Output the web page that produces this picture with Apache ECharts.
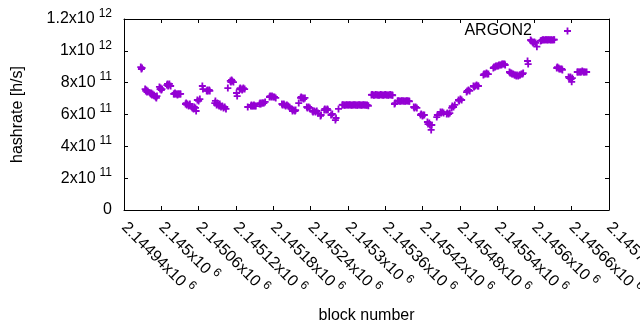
<!DOCTYPE html>
<html><head><meta charset="utf-8">
<script src="https://cdn.jsdelivr.net/npm/echarts@6/dist/echarts.min.js"></script>
<style>html,body{margin:0;padding:0;background:#fff}#c{width:640px;height:330px}</style>
</head><body><div id="c"></div>
<script>
const seriesName = 'ARGON2';
const xAxisTitle = 'block number';
const yAxisTitle = 'hashrate [h/s]';
const xMin = 2144940, xMax = 2145720, xStep = 60;
const yMin = 0, yMax = 1.2e12, yStep = 2e11;

const blockNumbers = [
2144967,2144968,2144969,
2144974,2144975,2144976,2144977,2144978,
2144982,2144983,2144984,2144985,2144986,2144988,2144989,
2144991,2144992,2144993,
2144997,2144998,2144999,2145000,2145001,
2145009,2145010,2145011,2145012,2145013,2145015,
2145020,2145021,2145022,2145023,2145025,2145026,2145027,2145028,2145030,2145031,
2145039,2145040,2145041,2145042,2145044,2145045,2145046,
2145049,2145050,2145052,2145053,2145055,2145056,
2145058,2145060,2145062,
2145066,2145067,
2145073,2145074,2145075,2145077,2145078,
2145086,2145087,2145089,2145090,2145092,2145093,2145094,2145096,2145098,2145100,2145102,2145104,
2145107,
2145111,2145112,2145113,2145114,2145116,
2145121,2145122,
2145126,2145127,2145128,2145130,2145131,2145132,2145134,
2145139,2145144,2145145,2145146,2145148,2145149,2145150,2145152,
2145158,2145159,2145160,2145162,2145163,2145165,2145167,
2145174,2145175,2145177,2145178,2145180,2145182,2145184,
2145194,2145195,2145197,2145198,2145200,2145202,2145204,2145206,
2145210,2145211,2145213,2145215,2145216,
2145221,
2145224,2145225,2145226,2145228,2145229,2145231,
2145234,2145235,2145237,2145239,
2145243,2145244,2145246,2145248,2145250,2145252,
2145256,2145257,
2145262,2145263,2145265,2145267,2145268,
2145273,2145275,
2145280,2145281,
2145285,
2145291,2145292,2145294,2145295,2145297,2145298,2145300,2145301,2145303,2145304,2145306,2145307,2145309,2145310,2145312,2145313,2145315,2145316,2145318,2145319,2145321,2145322,2145324,2145325,2145327,2145328,2145330,2145331,2145333,
2145338,2145339,2145341,2145342,2145344,2145345,2145347,2145348,2145350,2145351,2145353,2145354,2145356,2145357,2145359,2145360,2145362,2145363,2145365,2145366,2145368,2145369,2145371,2145372,
2145375,2145376,
2145380,2145381,2145383,2145384,2145386,2145387,2145389,2145390,2145392,2145393,2145395,2145396,2145398,2145399,
2145406,2145407,2145409,2145411,
2145417,2145418,2145420,2145421,2145423,
2145428,2145429,2145431,2145432,2145434,2145435,
2145443,2145444,
2145449,2145450,2145452,2145454,
2145459,2145460,2145462,2145464,
2145467,2145468,2145470,2145472,
2145478,2145479,2145481,2145483,
2145491,2145492,2145494,2145496,
2145502,2145503,2145505,2145507,2145509,2145510,
2145518,2145519,2145521,2145523,2145524,2145526,
2145534,2145535,2145537,2145538,2145540,2145542,2145543,2145545,2145547,2145548,2145550,2145552,2145553,
2145560,2145561,2145563,2145564,2145566,2145568,2145569,2145571,2145572,2145574,2145576,2145577,2145579,2145581,2145582,
2145589,2145590,
2145594,2145595,2145597,2145598,2145600,2145602,2145604,
2145610,2145611,2145613,2145614,2145616,2145618,2145619,2145621,2145622,2145624,2145626,2145627,2145629,2145631,2145632,
2145636,2145637,2145639,2145640,2145642,2145644,2145645,
2145655,2145656,2145658,2145659,2145660,2145661,
2145669,2145670,2145672,2145674,2145675,2145677,2145679,2145680,2145682,2145684
];

// hashrate in units of 1e11 h/s
const hashratesE11 = [
8.98,8.86,8.92,
7.60,7.48,7.54,7.41,7.48,
7.35,7.29,7.35,7.23,7.29,7.23,7.16,
7.10,7.04,7.16,
7.73,7.60,7.66,7.54,7.60,
7.85,7.92,7.79,7.85,7.92,7.79,
7.29,7.29,7.35,7.29,7.29,7.23,7.29,7.29,7.29,7.29,
6.66,6.72,6.60,6.66,6.53,6.60,6.66,
6.47,6.41,6.35,6.47,6.41,6.22,
6.91,6.85,6.97,
7.79,7.60,
7.48,7.54,7.48,7.54,7.48,
6.72,6.85,6.60,6.72,6.60,6.53,6.66,6.47,6.53,6.41,6.47,6.35,
7.66,
8.11,8.04,8.17,8.11,8.04,
7.35,7.16,
7.60,7.66,7.60,7.54,7.60,7.66,7.60,
6.47,6.53,6.60,6.53,6.53,6.60,6.53,6.53,
6.66,6.72,6.66,6.72,6.72,6.72,6.79,
7.10,7.16,7.10,7.16,7.10,7.10,7.04,
6.66,6.60,6.66,6.60,6.53,6.60,6.53,6.47,
6.35,6.22,6.28,6.22,6.28,
6.72,
7.04,7.10,7.04,7.04,6.97,7.04,
6.47,6.41,6.47,6.41,
6.22,6.16,6.22,6.16,6.22,6.09,
5.91,5.97,
6.28,6.35,6.28,6.35,6.28,
5.97,6.03,
5.65,5.78,
6.35,
6.60,6.62,6.60,6.58,6.60,6.62,6.60,6.60,6.62,6.60,6.58,6.60,6.60,6.62,6.60,6.60,6.58,6.60,6.62,6.60,6.60,6.58,6.60,6.62,6.60,6.60,6.58,6.60,6.55,
7.23,7.25,7.23,7.21,7.23,7.25,7.23,7.23,7.21,7.23,7.25,7.23,7.23,7.21,7.23,7.25,7.23,7.23,7.21,7.23,7.25,7.23,7.23,7.21,
6.66,6.72,
6.85,6.87,6.85,6.83,6.85,6.87,6.85,6.85,6.83,6.85,6.87,6.85,6.85,6.83,
6.47,6.41,6.47,6.41,
5.97,6.03,5.91,5.97,5.97,
5.53,5.40,5.47,5.34,5.03,5.34,
5.84,5.97,
6.16,6.09,6.16,6.09,
6.03,6.09,6.03,6.09,
6.41,6.53,6.47,6.60,
6.91,6.85,6.97,6.91,
7.41,7.48,7.54,7.48,
7.79,7.73,7.79,7.85,7.79,7.79,
8.48,8.54,8.54,8.60,8.54,8.54,
8.92,8.98,8.98,9.05,9.05,9.05,9.11,9.11,9.11,9.17,9.17,9.17,9.11,
8.67,8.60,8.60,8.54,8.54,8.48,8.48,8.42,8.48,8.42,8.48,8.48,8.54,8.54,8.60,
9.36,9.17,
10.68,10.62,10.56,10.50,10.56,10.50,10.26,
10.62,10.65,10.68,10.70,10.68,10.70,10.70,10.68,10.70,10.70,10.68,10.70,10.68,10.70,10.70,
8.92,8.98,8.92,8.86,8.86,8.86,8.80,
8.36,8.29,8.36,8.23,8.05,8.29,
8.67,8.67,8.67,8.67,8.67,8.73,8.67,8.67,8.67,8.67
];

const FONT = 'Liberation Sans';
const COLOR = '#9400D3';
const CROSS = 'path://M5.2,0h3.6v5.2h5.2v3.6h-5.2v5.2h-3.6v-5.2h-5.2v-3.6h5.2z';

const points = blockNumbers.map((b, i) => [b, hashratesE11[i] * 1e11]);

function sciLabel(v) {
  if (v === 0) return '{m|0}';
  const e = Math.floor(Math.log10(Math.abs(v)) + 1e-9);
  const m = +(v / Math.pow(10, e)).toFixed(5);
  return '{m|' + m + 'x10}{s|' + e + '}';
}
const rich = {
  m: { fontSize: 16, fontFamily: FONT, color: '#000' },
  s: { fontSize: 12, fontFamily: FONT, color: '#000', padding: [0, 0, 11, 4] }
};
const lineStyle = { color: '#000', width: 1 };

const chart = echarts.init(document.getElementById('c'), null, { renderer: 'canvas' });
chart.setOption({
  animation: false,
  backgroundColor: '#fff',
  grid: { left: 124, right: 31, top: 19, bottom: 120, containLabel: false, outerBoundsMode: 'none' },
  legend: {
    data: [{ name: seriesName, icon: CROSS }],
    right: 69, top: 23, padding: 0,
    itemWidth: 7, itemHeight: 7, align: 'right',
    selectedMode: false,
    itemStyle: { color: COLOR },
    formatter: (name) => '{t|' + name + '}{g|}',
    textStyle: {
      fontSize: 16, fontFamily: FONT, color: '#000',
      rich: { t: { fontSize: 16, fontFamily: FONT, color: '#000' }, g: { width: 27 } }
    }
  },
  xAxis: [{
    type: 'value', position: 'bottom', min: xMin, max: xMax, interval: xStep,
    axisLine: { show: true, onZero: false, lineStyle },
    axisTick: { show: true, inside: true, length: 4, lineStyle },
    splitLine: { show: false },
    axisLabel: { rotate: -45, margin: 15, formatter: sciLabel, rich, showMinLabel: true, showMaxLabel: true },
    name: xAxisTitle, nameLocation: 'middle', nameGap: 98,
    nameTextStyle: { fontSize: 16, fontFamily: FONT, color: '#000' }
  }, {
    type: 'value', position: 'top', min: xMin, max: xMax, interval: xStep,
    axisLine: { show: true, onZero: false, lineStyle },
    axisTick: { show: true, inside: true, length: 4, lineStyle },
    splitLine: { show: false }, axisLabel: { show: false }
  }],
  yAxis: [{
    type: 'value', position: 'left', min: yMin, max: yMax, interval: yStep,
    axisLine: { show: true, onZero: false, lineStyle },
    axisTick: { show: true, inside: true, length: 4, lineStyle },
    splitLine: { show: false },
    axisLabel: { margin: 12, formatter: sciLabel, rich },
    name: yAxisTitle, nameLocation: 'middle', nameRotate: 90, nameGap: 98,
    nameTextStyle: { fontSize: 16, fontFamily: FONT, color: '#000' }
  }, {
    type: 'value', position: 'right', min: yMin, max: yMax, interval: yStep,
    axisLine: { show: true, onZero: false, lineStyle },
    axisTick: { show: true, inside: true, length: 4, lineStyle },
    splitLine: { show: false }, axisLabel: { show: false }
  }],
  series: [{
    name: seriesName, type: 'scatter', xAxisIndex: 0, yAxisIndex: 0,
    symbol: CROSS, symbolSize: 7,
    itemStyle: { color: COLOR, opacity: 1 },
    emphasis: { disabled: true },
    data: points
  }]
});
</script>
</body></html>
